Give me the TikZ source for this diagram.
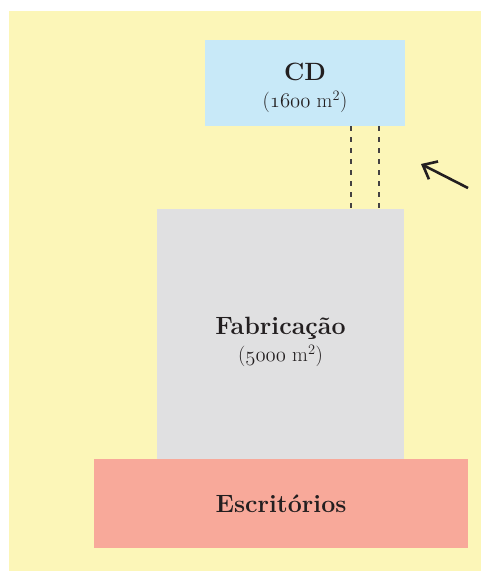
\documentclass[tikz,border=0pt]{standalone}
\usepackage{fontspec}
\usepackage{tikz}
\usetikzlibrary{arrows.meta}

\definecolor{plotyellow}{HTML}{FCF6B8}
\definecolor{cdblue}{HTML}{C8E9F8}
\definecolor{fabgray}{HTML}{E0E0E1}
\definecolor{escsalmon}{HTML}{F8A99A}
\definecolor{inkdark}{HTML}{231F20}

% old-style figures from the math italic font
\newcommand{\oldnum}[1]{{\usefont{OML}{lmm}{m}{it}#1}}
\newcommand{\areatext}[1]{{\mdseries\fontsize{20.5}{24}\selectfont(\oldnum{#1} m\textsuperscript{2})}}

\begin{document}
\begin{tikzpicture}[x=1pt, y=-1pt,
      every node/.style = {shape=rectangle, align=center, inner sep=0pt,
        text=inkdark, font=\fontsize{25}{28}\selectfont\bfseries},
      room/.style = {minimum width=#1}]
      \useasboundingbox (0,0) rectangle (481,571);
      \fill[plotyellow] (9,11) rectangle (481,571);
      \node[room=200pt, minimum height=86pt, fill=cdblue] (cd) at (305,83) {};
      \node[room=247pt, minimum height=250pt, fill=fabgray] (fab) at (280.5,334) {};
      \node[room=374pt, minimum height=89pt, fill=escsalmon] (esc) at (281,503.5)
        {Escritórios};
      \node[yshift=-5pt] (cdname) at (cd.center) {CD\\[-1pt] \areatext{1600}};
      \node[yshift=-8pt] (fabname) at (fab.center) {Fabricação\\[-1pt] \areatext{5000}};
      \coordinate (d1) at (351,0);
      \coordinate (d2) at (379,0);
      \draw[inkdark!85, line width=1.3pt, dash pattern=on 4.5pt off 6.5pt]
        (d1 |- cd.south) -- (d1 |- fab.north);
      \draw[inkdark!85, line width=1.3pt, dash pattern=on 4.5pt off 6.5pt]
        (d2 |- cd.south) -- (d2 |- fab.north);
      \coordinate (tail) at (468,188);
      \coordinate (tip) at (421,164);
      \draw[inkdark, line width=2.6pt, -{Straight Barb[length=12pt,width=20pt]}]
        (tail) -- (tip);
  \end{tikzpicture}
\end{document}
